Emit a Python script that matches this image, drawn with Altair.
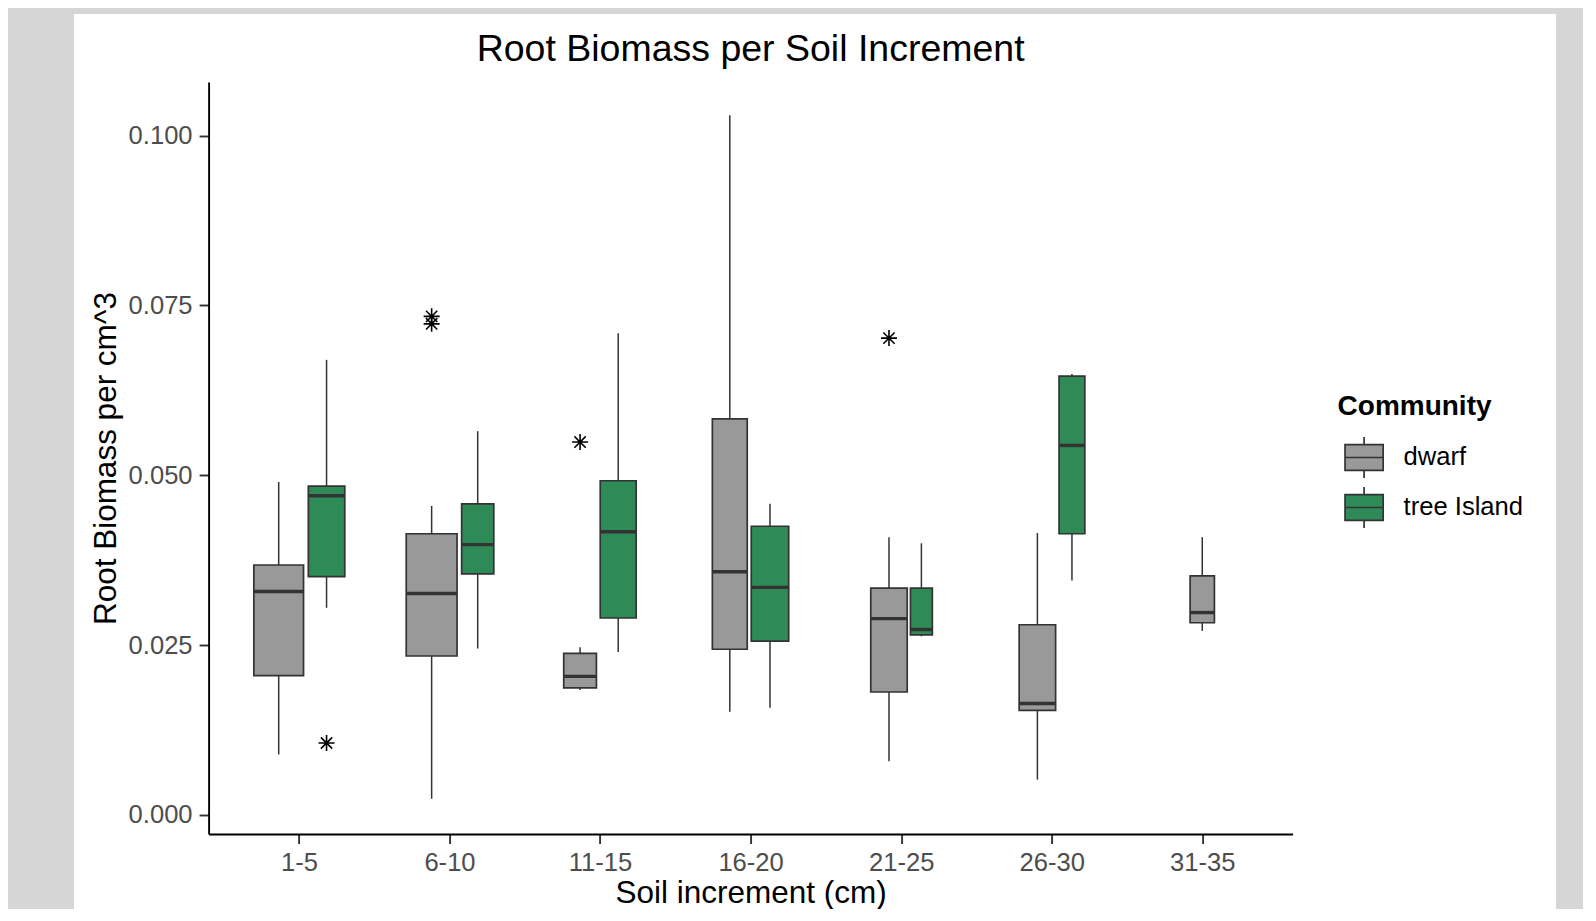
import math
import json
import altair as alt
import pandas as pd

# ---------------- data ----------------
categories = ["1-5", "6-10", "11-15", "16-20", "21-25", "26-30", "31-35"]
communities = ["dwarf", "tree Island"]
colors = ["#999999", "#2e8b57"]

dwarf_low = [0.0089, 0.0024, 0.0184, 0.0152, 0.0079, 0.0052, 0.0271]
dwarf_q1 = [0.0205, 0.0234, 0.0187, 0.0244, 0.0181, 0.0154, 0.0283]
dwarf_med = [0.0329, 0.0326, 0.0204, 0.0358, 0.0289, 0.0164, 0.0298]
dwarf_q3 = [0.0368, 0.0414, 0.0238, 0.0583, 0.0334, 0.0280, 0.0352]
dwarf_high = [0.0490, 0.0455, 0.0247, 0.1030, 0.0409, 0.0415, 0.0409]
dwarf_n = [67, 70, 29, 33, 36, 36, 4]

tree_low = [0.0305, 0.0245, 0.0240, 0.0158, 0.0263, 0.0345, None]
tree_q1 = [0.0351, 0.0355, 0.0290, 0.0256, 0.0265, 0.0414, None]
tree_med = [0.0470, 0.0398, 0.0417, 0.0335, 0.0273, 0.0544, None]
tree_q3 = [0.0484, 0.0458, 0.0492, 0.0425, 0.0334, 0.0646, None]
tree_high = [0.0670, 0.0565, 0.0709, 0.0458, 0.0400, 0.0649, None]
tree_n = [36, 28, 35, 38, 13, 18, None]

outlier_cat = ["1-5", "6-10", "6-10", "11-15", "21-25"]
outlier_comm = ["tree Island", "dwarf", "dwarf", "dwarf", "dwarf"]
outlier_val = [0.0106, 0.0734, 0.0723, 0.0549, 0.0702]

# ---------------- boxplot layout (ggplot varwidth + dodge2) ----------------
BOX_WIDTH = 0.75
PAD = 0.1
series = [
    ("dwarf", dwarf_low, dwarf_q1, dwarf_med, dwarf_q3, dwarf_high, dwarf_n),
    ("tree Island", tree_low, tree_q1, tree_med, tree_q3, tree_high, tree_n),
]
rows = []
for comm, lo, q1, med, q3, hi, n in series:
    for i, cat in enumerate(categories):
        if n[i] is None:
            continue
        rows.append(dict(cat=cat, idx=i + 1, community=comm, lo=lo[i], q1=q1[i],
                         med=med[i], q3=q3[i], hi=hi[i], n=n[i]))
max_sqrt = max(math.sqrt(r["n"]) for r in rows)
for i, cat in enumerate(categories):
    grp = [r for r in rows if r["cat"] == cat]
    k = len(grp)
    widths = [math.sqrt(r["n"]) / max_sqrt * BOX_WIDTH / k for r in grp]
    start = (i + 1) - sum(widths) / 2
    for r, w in zip(grp, widths):
        r["xc"] = start + w / 2
        r["xmin"] = r["xc"] - w * (1 - PAD) / 2
        r["xmax"] = r["xc"] + w * (1 - PAD) / 2
        start += w
df = pd.DataFrame(rows)

centers = {(r["cat"], r["community"]): r["xc"] for r in rows}
out_df = pd.DataFrame({
    "cat": outlier_cat,
    "community": outlier_comm,
    "value": outlier_val,
})
out_df["xc"] = [centers[(c, m)] for c, m in zip(outlier_cat, outlier_comm)]

# ---------------- chart ----------------
FONT = "Liberation Sans"
GREY = "#d6d6d6"
ASTERISK = "M-1,0L1,0M0,-1L0,1M-0.707,-0.707L0.707,0.707M-0.707,0.707L0.707,-0.707"
BOXGLYPH = ("M-0.93,-0.63L0.93,-0.63L0.93,0.63L-0.93,0.63Z"
            "M-0.93,0L0.93,0M0,-0.63L0,-1M0,0.63L0,1")

xscale = alt.Scale(domain=[0.4, 7.6], nice=False, zero=False)
yscale = alt.Scale(domain=[-0.0028, 0.1079], nice=False, zero=False)
xaxis = alt.Axis(values=list(range(1, len(categories) + 1)),
                 labelExpr=json.dumps(categories) + "[round(datum.value) - 1]",
                 title="Soil increment (cm)", labelFlush=False, titlePadding=1)
yaxis = alt.Axis(values=[0, 0.025, 0.05, 0.075, 0.1], format=".3f",
                 title="Root Biomass per cm^3", labelFlush=False, titlePadding=6)

# grey frame around the white panel (screen-viewer border of the original)
one = alt.Data(values=[{"a": 1}])
frame_left = alt.Chart(one).mark_rect(fill=GREY).encode(
    x=alt.value(-201), x2=alt.value(-134.6), y=alt.value(-75), y2=alt.value(830))
frame_top = alt.Chart(one).mark_rect(fill=GREY).encode(
    x=alt.value(-201), x2=alt.value(1380), y=alt.value(-75), y2=alt.value(-68))
frame_right = alt.Chart(one).mark_rect(fill=GREY).encode(
    x=alt.value(1347.4), x2=alt.value(1380), y=alt.value(-75), y2=alt.value(830))

whiskers = alt.Chart(df).mark_rule(color="#333333", strokeWidth=1.5).encode(
    x=alt.X("xc:Q", scale=xscale, axis=xaxis),
    y=alt.Y("lo:Q", scale=yscale, axis=yaxis),
    y2="hi:Q",
)

boxes = alt.Chart(df).mark_rect(stroke="#333333", strokeWidth=1.7).encode(
    x=alt.X("xmin:Q", scale=xscale, axis=xaxis),
    x2="xmax:Q",
    y=alt.Y("q1:Q", scale=yscale, axis=yaxis),
    y2="q3:Q",
    fill=alt.Fill("community:N",
                  scale=alt.Scale(domain=communities, range=colors),
                  legend=alt.Legend(
                      title="Community", orient="none", legendX=1129, legendY=311,
                      symbolType=BOXGLYPH, symbolSize=1681,
                      symbolStrokeColor="#333333", symbolStrokeWidth=1.7,
                      symbolOffset=5, labelOffset=18, rowPadding=1,
                      labelFont=FONT, labelFontSize=25.6, labelColor="black",
                      titleFont=FONT, titleFontSize=28, titleFontWeight="bold",
                      titleColor="black", titlePadding=15, padding=0,
                  )),
)

medians = alt.Chart(df).mark_rule(color="#333333", strokeWidth=3.4).encode(
    x=alt.X("xmin:Q", scale=xscale, axis=xaxis),
    x2="xmax:Q",
    y=alt.Y("med:Q", scale=yscale, axis=yaxis),
)

outliers = alt.Chart(out_df).mark_point(
    shape=ASTERISK, size=256, filled=False, color="black", strokeWidth=1.6, opacity=1
).encode(
    x=alt.X("xc:Q", scale=xscale, axis=xaxis),
    y=alt.Y("value:Q", scale=yscale, axis=yaxis),
)

chart = alt.layer(frame_left, frame_top, frame_right, whiskers, boxes, medians, outliers).properties(
    width=1084,
    height=752,
    background="white",
    autosize=alt.AutoSizeParams(type="none"),
    padding={"left": 200.6, "top": 74, "right": 290, "bottom": 75},
    title=alt.TitleParams("Root Biomass per Soil Increment", font=FONT, fontSize=37.5,
                          fontWeight="normal", color="black", anchor="middle",
                          frame="group", offset=0, baseline="alphabetic", dy=91),
).configure_axis(
    grid=False, domainColor="black", domainWidth=1.9,
    tickColor="#333333", tickWidth=1.9, tickSize=9.5, labelPadding=7,
    labelFont=FONT, labelFontSize=25.6, labelColor="#4d4d4d",
    titleFont=FONT, titleFontSize=31.5, titleColor="black", titleFontWeight="normal",
    labelOverlap=False,
).configure_view(strokeWidth=0)

chart.save("out.html", embed_options={"renderer": "svg", "actions": False})
